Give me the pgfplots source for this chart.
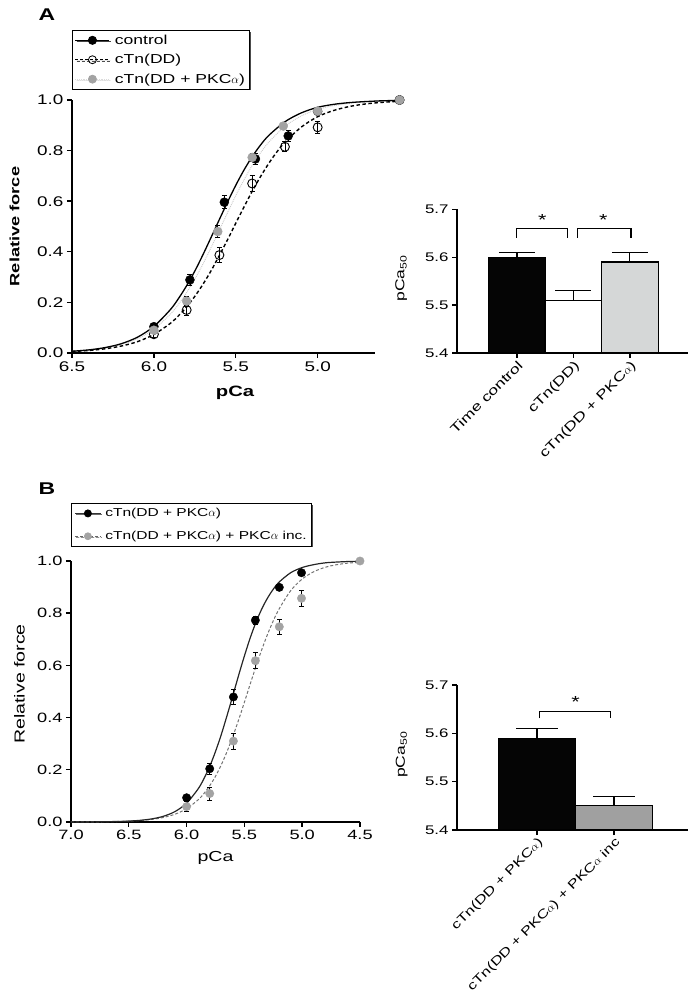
\documentclass[border=0pt]{standalone}
\usepackage{fontspec}
\setmainfont{Liberation Sans}[FakeStretch=1.35]
\usepackage{pgfplots}
\pgfplotsset{compat=1.18}
\usepackage{pgfplotstable}
\usetikzlibrary{shadows}

\definecolor{ptgray}{HTML}{A3A3A3}
\definecolor{bargrayA}{HTML}{D5D7D7}
\definecolor{bargrayB}{HTML}{A0A0A0}
\newcommand{\fs}[1]{\fontsize{#1}{#1}\selectfont}

% ---------- Panel A data ----------
\pgfplotstableread{
x y e
6.00 0.104 0.012
5.78 0.289 0.020
5.57 0.596 0.025
5.38 0.767 0.020
5.18 0.858 0.020
5.00 0.955 0.010
4.50 1.000 0.000
}\ctrlA
\pgfplotstableread{
x y e
6.00 0.074 0.012
5.80 0.170 0.020
5.60 0.387 0.030
5.40 0.670 0.030
5.20 0.815 0.020
5.00 0.892 0.025
4.50 1.000 0.000
}\ddA
\pgfplotstableread{
x y e
6.00 0.090 0.010
5.80 0.205 0.020
5.61 0.480 0.025
5.40 0.773 0.015
5.21 0.897 0.010
5.00 0.956 0.010
4.50 1.000 0.000
}\pkcA
\pgfplotstableread{
x y
6.5 0.0069
6.4 0.0121
6.3 0.0211
6.2 0.0365
6.1 0.0625
6.0 0.105
5.9 0.171
5.85 0.215
5.8 0.266
5.75 0.324
5.7 0.389
5.65 0.458
5.6 0.528
5.55 0.597
5.5 0.663
5.45 0.723
5.4 0.776
5.35 0.821
5.3 0.859
5.2 0.914
5.1 0.949
5.0 0.971
4.9 0.983
4.8 0.990
4.7 0.994
4.6 0.997
4.5 0.998
}\ctrlAfit
\pgfplotstableread{
x y
6.5 0.0059
6.4 0.0098
6.3 0.0164
6.2 0.0273
6.1 0.0449
6.0 0.0732
5.9 0.117
5.85 0.147
5.8 0.182
5.75 0.224
5.7 0.272
5.65 0.326
5.6 0.386
5.55 0.448
5.5 0.513
5.45 0.577
5.4 0.639
5.35 0.696
5.3 0.748
5.25 0.794
5.2 0.833
5.1 0.893
5.0 0.934
4.9 0.959
4.8 0.975
4.7 0.985
4.6 0.991
4.5 0.995
}\ddAfit
\pgfplotstableread{
x y
6.5 0.0065
6.4 0.0113
6.3 0.0194
6.2 0.0332
6.1 0.0563
6.0 0.094
5.9 0.153
5.85 0.192
5.8 0.239
5.75 0.292
5.7 0.352
5.65 0.418
5.6 0.486
5.55 0.555
5.5 0.622
5.45 0.684
5.4 0.741
5.35 0.790
5.3 0.832
5.2 0.896
5.1 0.937
5.0 0.963
4.9 0.978
4.8 0.987
4.7 0.993
4.6 0.996
4.5 0.998
}\pkcAfit

% ---------- Panel B data ----------
\pgfplotstableread{
x y e
6.000 0.093 0.010
5.800 0.204 0.020
5.595 0.479 0.030
5.405 0.773 0.015
5.198 0.899 0.010
5.006 0.955 0.010
}\pkcB
\pgfplotstableread{
x y e
6.000 0.059 0.020
5.800 0.109 0.025
5.595 0.310 0.030
5.405 0.618 0.030
5.198 0.748 0.030
5.006 0.857 0.030
4.500 1.000 0.000
}\incB
\pgfplotstableread{
x y
7.0 0.0002
6.8 0.0005
6.6 0.0019
6.5 0.0035
6.4 0.0065
6.3 0.012
6.2 0.022
6.1 0.040
6.0 0.072
5.9 0.127
5.85 0.166
5.8 0.213
5.75 0.270
5.7 0.335
5.65 0.408
5.6 0.484
5.55 0.562
5.5 0.636
5.45 0.705
5.4 0.765
5.35 0.816
5.3 0.858
5.25 0.892
5.2 0.919
5.1 0.955
5.0 0.975
4.9 0.986
4.8 0.993
4.7 0.996
4.6 0.998
4.5 0.999
}\pkcBfit
\pgfplotstableread{
x y
7.0 0.0002
6.8 0.0006
6.6 0.0019
6.5 0.0034
6.4 0.0058
6.3 0.0101
6.2 0.0174
6.1 0.0299
6.0 0.0508
5.9 0.085
5.85 0.109
5.8 0.139
5.75 0.175
5.7 0.219
5.65 0.270
5.6 0.328
5.55 0.391
5.5 0.459
5.45 0.528
5.4 0.596
5.35 0.660
5.3 0.719
5.25 0.771
5.2 0.816
5.1 0.886
5.0 0.931
4.9 0.959
4.8 0.976
4.7 0.986
4.6 0.992
4.5 0.995
}\incBfit

\pgfplotsset{
  common/.style={
    scale only axis,
    axis x line*=bottom, axis y line*=left,
    axis line style={line width=1.6pt, black},
    tick align=outside, major tick length=5pt,
    tick style={line width=1.4pt, black},
    /pgf/number format/assume math mode=true,
    /pgf/number format/fixed,
    /pgf/number format/fixed zerofill,
    /pgf/number format/precision=1,
  },
  errA/.style={error bars/.cd, y dir=both, y explicit,
    error bar style={line width=0.8pt, black, solid},
    error mark options={rotate=90, line width=0.8pt, black, mark size=2.5pt, solid}},
  barerr/.style={error bars/.cd, y dir=plus, y explicit,
    error bar style={line width=1.3pt, black},
    error mark options={rotate=90, line width=1.3pt, black, mark size=#1}},
}

\begin{document}
\begin{tikzpicture}[x=1pt,y=1pt]

% ================= Panel A: force-pCa =================
\begin{axis}[common, clip=false,
  at={(72pt,643pt)}, anchor=south west,
  width=303pt, height=253pt,
  x dir=reverse,
  xmin=4.65, xmax=6.5, ymin=0, ymax=1,
  xtick={6.5,6.0,5.5,5.0}, ytick={0,0.2,0.4,0.6,0.8,1.0},
  ticklabel style={font=\fs{14}},
  xlabel={\bfseries pCa}, xlabel style={font=\fs{15}, at={(axis description cs:0.538,-0.158)}, anchor=center},
  ylabel={\bfseries Relative force}, ylabel style={font=\fs{13.5}, at={(axis description cs:-0.19,0.5)}, anchor=center},
  legend cell align=left,
  legend style={at={(axis description cs:0,1.277)}, anchor=north west, draw=black, line width=0.9pt,
    font=\fs{13}, inner sep=2.5pt, row sep=4.5pt, column sep=3pt,
    drop shadow={shadow xshift=1.2pt, shadow yshift=-1.2pt, fill=black, opacity=0.7}},
  legend image code/.code={\draw[mark repeat=2,mark phase=2,#1] plot coordinates {(0pt,0pt) (17pt,0pt) (34pt,0pt)};},
]
\addlegendimage{black, solid, line width=1pt, mark=*, mark size=4pt, mark options={solid, fill=black}}
\addlegendentry{control}
\addlegendimage{black, densely dashed, line width=0.8pt, mark=o, mark size=4pt, mark options={solid, fill=white, draw=black}}
\addlegendentry{cTn(DD)}
\addlegendimage{ptgray!40, densely dotted, line width=0.8pt, mark=*, mark size=4pt, mark options={solid, fill=ptgray, draw=ptgray}}
\addlegendentry{cTn(DD + PKC$\alpha$)}

\addplot[forget plot, ptgray!60, densely dotted, line width=0.9pt, smooth] table[x=x,y=y] {\pkcAfit};
\addplot[forget plot, black, dash pattern=on 3.5pt off 2.5pt, line width=1.4pt, smooth] table[x=x,y=y] {\ddAfit};
\addplot[forget plot, black, solid, line width=1.3pt, smooth] table[x=x,y=y] {\ctrlAfit};

\addplot[forget plot, only marks, mark=o, mark size=4.5pt, mark options={fill=white, draw=black, line width=0.9pt}, errA]
  table[x=x,y=y,y error=e] {\ddA};
\addplot[forget plot, only marks, mark=*, mark size=4.5pt, mark options={fill=black, draw=black}, errA]
  table[x=x,y=y,y error=e] {\ctrlA};
\addplot[forget plot, only marks, mark=*, mark size=4.5pt, mark options={fill=ptgray, draw=ptgray}, errA]
  table[x=x,y=y,y error=e] {\pkcA};
\end{axis}

% ================= Panel A: pCa50 bars =================
\begin{axis}[common, clip=true,
  at={(457pt,643pt)}, anchor=south west,
  width=231pt, height=143.5pt,
  xmin=-1.06, xmax=3.03, ymin=5.4, ymax=5.7,
  xtick={0,1,2}, xticklabels={Time control, cTn(DD), cTn(DD + PKC$\alpha$)},
  ytick={5.4,5.5,5.6,5.7},
  yticklabel style={font=\fs{12.5}},
  xticklabel style={font=\fs{13}, rotate=45, anchor=north east, inner sep=1pt},
  ylabel={pCa\textsubscript{50}}, ylabel style={font=\fs{13}, at={(axis description cs:-0.242,0.519)}, anchor=center},
]
\addplot[ybar, bar width=57pt, bar shift=0pt, fill=black!98, draw=black, line width=1.3pt, barerr=18pt]
  coordinates {(0,5.60) +- (0,0.01)};
\addplot[ybar, bar width=57pt, bar shift=0pt, fill=white, draw=black, line width=1.3pt, barerr=18pt]
  coordinates {(1,5.51) +- (0,0.02)};
\addplot[ybar, bar width=57pt, bar shift=0pt, fill=bargrayA, draw=black, line width=1.3pt, barerr=18pt]
  coordinates {(2,5.59) +- (0,0.02)};
\addplot[black, line width=1.2pt, mark=none] coordinates {(0,5.641) (0,5.661) (0.90,5.661) (0.90,5.641)};
\addplot[black, line width=1.2pt, mark=none] coordinates {(1.08,5.641) (1.08,5.661) (2.02,5.661) (2.02,5.641)};
\node[font=\fs{16}] at (axis cs:0.45,5.678) {*};
\node[font=\fs{16}] at (axis cs:1.53,5.678) {*};
\end{axis}

% ================= Panel B: force-pCa =================
\begin{axis}[common, clip=false,
  at={(71pt,174pt)}, anchor=south west,
  width=289pt, height=261pt,
  x dir=reverse,
  xmin=4.5, xmax=7.0, ymin=0, ymax=1,
  xtick={7.0,6.5,6.0,5.5,5.0,4.5}, ytick={0,0.2,0.4,0.6,0.8,1.0},
  ticklabel style={font=\fs{13.5}},
  xlabel={pCa}, xlabel style={font=\fs{14.5}, at={(axis description cs:0.5,-0.138)}, anchor=center},
  ylabel={Relative force}, ylabel style={font=\fs{14.5}, at={(axis description cs:-0.178,0.529)}, anchor=center},
  legend cell align=left,
  legend style={at={(axis description cs:0,1.222)}, anchor=north west, draw=black, line width=0.9pt,
    font=\fs{11.5}, inner sep=3pt, row sep=9pt, column sep=2pt,
    drop shadow={shadow xshift=1.2pt, shadow yshift=-1.2pt, fill=black, opacity=0.7}},
  legend image code/.code={\draw[mark repeat=2,mark phase=2,#1] plot coordinates {(0pt,0pt) (13pt,0pt) (26pt,0pt)};},
]
\addlegendimage{black!80, solid, line width=0.9pt, mark=*, mark size=3.5pt, mark options={solid, fill=black, draw=black}}
\addlegendentry{cTn(DD + PKC$\alpha$)}
\addlegendimage{black!60, densely dashed, line width=0.7pt, mark=*, mark size=3.5pt, mark options={solid, fill=ptgray, draw=ptgray}}
\addlegendentry{cTn(DD + PKC$\alpha$) + PKC$\alpha$ inc.}

\addplot[forget plot, black!55, dash pattern=on 3pt off 2pt, line width=1pt, smooth] table[x=x,y=y] {\incBfit};
\addplot[forget plot, black!85, solid, line width=1.2pt, smooth] table[x=x,y=y] {\pkcBfit};

\addplot[forget plot, only marks, mark=*, mark size=4.2pt, mark options={fill=black, draw=black}, errA]
  table[x=x,y=y,y error=e] {\pkcB};
\addplot[forget plot, only marks, mark=*, mark size=4.2pt, mark options={fill=ptgray, draw=ptgray}, errA]
  table[x=x,y=y,y error=e] {\incB};
\end{axis}

% ================= Panel B: pCa50 bars =================
\begin{axis}[common, clip=true,
  at={(457pt,166pt)}, anchor=south west,
  width=231pt, height=145pt,
  xmin=-1.04, xmax=1.96, ymin=5.4, ymax=5.7,
  xtick={0,1}, xticklabels={cTn(DD + PKC$\alpha$), cTn(DD + PKC$\alpha$) + PKC$\alpha$ inc},
  ytick={5.4,5.5,5.6,5.7},
  yticklabel style={font=\fs{12.5}},
  xticklabel style={font=\fs{12.3}, rotate=45, anchor=north east, inner sep=1pt},
  ylabel={pCa\textsubscript{50}}, ylabel style={font=\fs{13}, at={(axis description cs:-0.24,0.52)}, anchor=center},
]
\addplot[ybar, bar width=77pt, bar shift=0pt, fill=black!98, draw=black, line width=1.3pt, barerr=21pt]
  coordinates {(0,5.59) +- (0,0.02)};
\addplot[ybar, bar width=77pt, bar shift=0pt, fill=bargrayB, draw=black, line width=1.3pt, barerr=21pt]
  coordinates {(1,5.45) +- (0,0.02)};
\addplot[black, line width=1.2pt, mark=none] coordinates {(0.03,5.631) (0.03,5.645) (0.95,5.645) (0.95,5.631)};
\node[font=\fs{16}] at (axis cs:0.5,5.664) {*};
\end{axis}

% panel letters
\node[font=\bfseries\fs{17}] at (47pt,981pt) {A};
\node[font=\bfseries\fs{17}] at (47pt,507pt) {B};

\pgfresetboundingbox
\path[use as bounding box] (0pt,0pt) rectangle (695pt,996pt);
\end{tikzpicture}
\end{document}
